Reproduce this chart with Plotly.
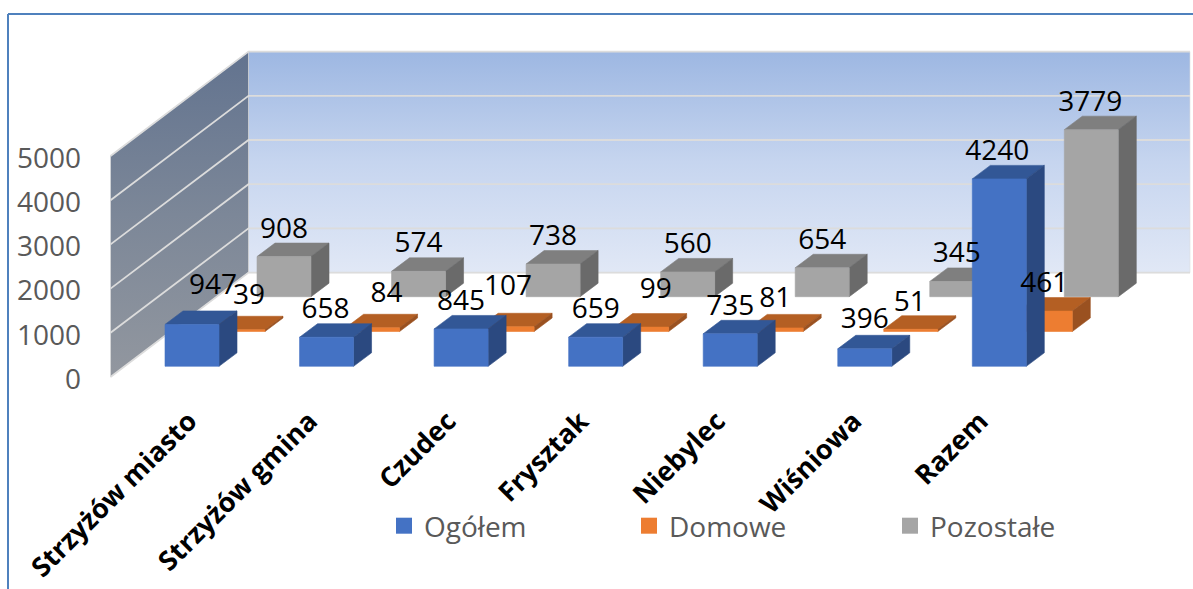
import plotly.graph_objects as go

categories = ["Strzyżów miasto", "Strzyżów gmina", "Czudec", "Frysztak", "Niebylec", "Wiśniowa", "Razem"]
ogolem = [947, 658, 845, 659, 735, 396, 4240]
domowe = [39, 84, 107, 99, 81, 51, 461]
pozostale = [908, 574, 738, 560, 654, 345, 3779]
axis_ticks = [0, 1000, 2000, 3000, 4000, 5000]

# label nudges (pixels right, pixels up from the front-top centre of each bar)
nudge_ogolem = [(21, 37), (-1, 26), (0, 26), (0, 26), (0, 26), (0, 28), (-2, 26)]
nudge_domowe = [(11, 33), (14, 33), (1, 39), (14, 36), (-1, 28), (-1, 25), (-1, 26)]
nudge_pozostale = [(0, 26), (0, 26), (0, 26), (0, 26), (0, 26), (0, 26), (-1, 26)]
# category label nudges (pixels right of bar centre)
nudge_category = [-3, -17, -13, -15, -13, -11, -19]

W, H = 1193, 589
PX = 0.0442            # pixels per value unit
FLOOR_Y = 377.0        # pixel row of value 0 at the front of the floor
FRONT_X = 110.5        # pixel column of the front of the floor
SER_DX, SER_DY = 46.0, 34.8
BAR_W, BAR_DX, BAR_DY = 54.0, 18.0, 13.5
CAT_STEP = 134.55
BAR0_X = 165.0
BAR0_LIFT = 10.7
FONT = "Open Sans"

def val(px_up):
    return px_up / PX

def bar_point(cat, ser, value, side, depth):
    """Oblique projection of a point of a bar to axis coordinates."""
    x = BAR0_X + CAT_STEP * cat + SER_DX * ser + BAR_W * side + BAR_DX * depth
    y = value + val(BAR0_LIFT + SER_DY * ser + BAR_DY * depth)
    return x, y

def wall_point(depth, value):
    return FRONT_X + SER_DX * 3 * depth, value + val(SER_DY * 3 * depth)

def poly(points, color=None, **kw):
    xs = [p[0] for p in points] + [points[0][0]]
    ys = [p[1] for p in points] + [points[0][1]]
    args = dict(x=xs, y=ys, mode="lines", fill="toself", line=dict(width=0.6, color=color or "#dddddd"),
                hoverinfo="skip", showlegend=False)
    if color:
        args["fillcolor"] = color
    args.update(kw)
    return go.Scatter(**args)

fig = go.Figure()

# walls
top = axis_ticks[-1]
back_right = 1190.0
fig.add_trace(poly(
    [wall_point(1, 0), (back_right, wall_point(1, 0)[1]), (back_right, wall_point(1, top)[1]), wall_point(1, top)],
    fillgradient=dict(type="vertical", colorscale=[[0, "#E1E8F6"], [0.5, "#C6D5EF"], [1, "#9DB7E2"]]),
))
fig.add_trace(poly(
    [wall_point(0, 0), wall_point(1, 0), wall_point(1, top), wall_point(0, top)],
    fillgradient=dict(type="vertical", colorscale=[[0, "#92979F"], [0.5, "#7C8798"], [1, "#62738F"]]),
))
for t in axis_ticks:
    fig.add_trace(go.Scatter(
        x=[wall_point(0, t)[0], wall_point(1, t)[0], back_right],
        y=[wall_point(0, t)[1], wall_point(1, t)[1], wall_point(1, t)[1]],
        mode="lines", line=dict(color="#DCDCDC", width=1.8), hoverinfo="skip", showlegend=False,
    ))

# bars, back series first
series = [
    ("Pozostałe", pozostale, 2, "#A5A5A5", "#7F7F7F", "#6A6A6A", nudge_pozostale),
    ("Domowe", domowe, 1, "#ED7D31", "#B45F23", "#9A5120", nudge_domowe),
    ("Ogółem", ogolem, 0, "#4472C4", "#325796", "#2B4980", nudge_ogolem),
]
for name, values, s, front, topc, side, nudge in series:
    for c, v in enumerate(values):
        fig.add_trace(poly([bar_point(c, s, v, 0, 0), bar_point(c, s, v, 1, 0), bar_point(c, s, v, 1, 1), bar_point(c, s, v, 0, 1)], topc))
        fig.add_trace(poly([bar_point(c, s, 0, 1, 0), bar_point(c, s, 0, 1, 1), bar_point(c, s, v, 1, 1), bar_point(c, s, v, 1, 0)], side))
        fig.add_trace(poly([bar_point(c, s, 0, 0, 0), bar_point(c, s, 0, 1, 0), bar_point(c, s, v, 1, 0), bar_point(c, s, v, 0, 0)], front))

# data labels above everything
for name, values, s, front, topc, side, nudge in series:
    xs, ys = [], []
    for c, v in enumerate(values):
        x, y = bar_point(c, s, v, 0.5, 0)
        xs.append(x + nudge[c][0])
        ys.append(y + val(nudge[c][1]))
    fig.add_trace(go.Scatter(x=xs, y=ys, mode="text", text=[str(v) for v in values], textposition="middle center",
                             textfont=dict(family=FONT, size=28, color="#000000"), hoverinfo="skip", showlegend=False))

# legend entries
legend_slots = [("Ogółem", "#4472C4", "legend", 384), ("Domowe", "#ED7D31", "legend2", 629), ("Pozostałe", "#A5A5A5", "legend3", 890)]
legend_font = dict(family=FONT, size=28, color="#595959")
legend_layout = {}
for name, color, key, px in legend_slots:
    fig.add_trace(go.Scatter(x=[None], y=[None], mode="markers", name=name, legend=key,
                             marker=dict(symbol="square", size=18, color=color)))
    legend_layout[key] = dict(x=px / W, y=1 - 526 / H, xanchor="left", yanchor="middle", bgcolor="rgba(0,0,0,0)",
                              font=legend_font, orientation="h", itemwidth=30)

tick_x = [bar_point(c, 0, 0, 0.5, 0)[0] + nudge_category[c] for c in range(len(categories))]

fig.update_layout(
    width=W, height=H, margin=dict(l=0, r=0, t=0, b=0, autoexpand=False),
    paper_bgcolor="white", plot_bgcolor="white", showlegend=True,
    xaxis=dict(range=[0, W], domain=[0, 1], anchor="free", position=1 - 399 / H, tickmode="array",
               tickvals=tick_x, ticktext=categories, tickangle=-45, ticks="", showgrid=False, zeroline=False,
               showline=False, tickfont=dict(family=FONT, size=27, color="#000000", weight="bold")),
    yaxis=dict(range=[val(FLOOR_Y - H), val(FLOOR_Y)], domain=[0, 1], anchor="free", position=81 / W, tickmode="array",
               tickvals=axis_ticks, ticktext=[str(t) for t in axis_ticks], ticks="", showgrid=False, zeroline=False,
               showline=False, ticklabelshift=2, tickfont=dict(family=FONT, size=28, color="#595959")),
    shapes=[
        dict(type="line", xref="paper", yref="paper", x0=8 / W, x1=8 / W, y0=0, y1=1 - 14 / H, line=dict(color="#4F81BD", width=2)),
        dict(type="line", xref="paper", yref="paper", x0=8 / W, x1=1, y0=1 - 14 / H, y1=1 - 14 / H, line=dict(color="#4F81BD", width=2)),
    ],
    **legend_layout,
)

fig.write_html("out.html", config={"displayModeBar": False}, post_script="document.body.style.margin='0';")
